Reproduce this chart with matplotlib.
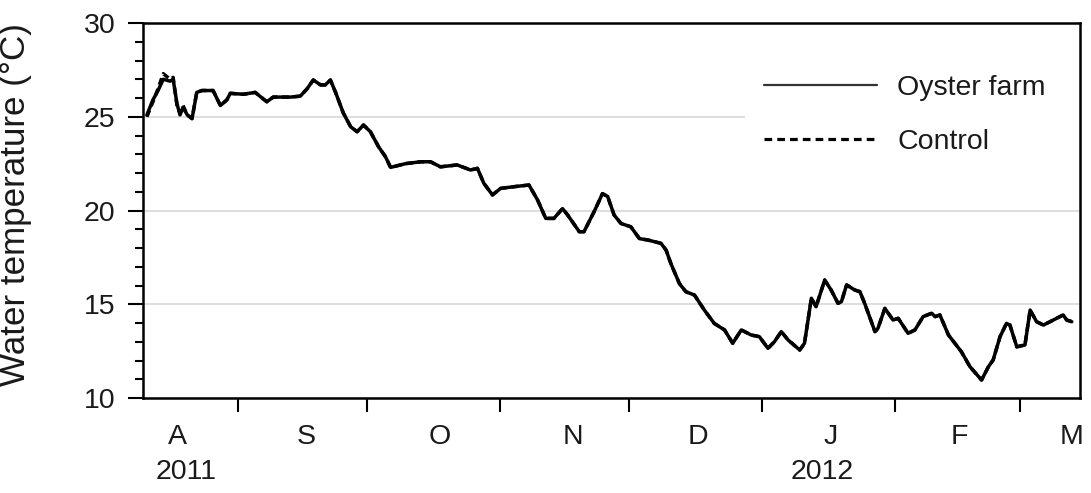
import pandas as pd
import matplotlib
matplotlib.use("Agg")
import matplotlib.pyplot as plt
import matplotlib.dates as mdates
from matplotlib.patches import Rectangle
from matplotlib.ticker import MultipleLocator, FixedLocator, FixedFormatter, NullFormatter

plt.rcParams["font.family"] = ["Liberation Sans", "DejaVu Sans"]

start = pd.Timestamp("2011-08-01")

# days after 1 Aug 2011
days = [9.9, 11.3, 12.5, 13.7, 15.3, 16.0, 16.9, 17.6, 18.3, 19.3,
        20.4, 21.5, 22.7, 25.3, 27.0, 28.5, 29.3, 32.3, 35.1, 37.8,
        39.3, 43.3, 45.6, 47.2, 48.6, 50.3, 51.4, 52.6, 53.8, 55.6,
        57.3, 58.8, 60.3, 61.9, 63.8, 65.4, 66.6, 70.1, 73.6, 75.9,
        78.2, 82.1, 85.2, 86.8, 88.3, 90.3, 92.2, 95.3, 98.8, 100.8,
        102.7, 104.6, 106.6, 107.8, 110.5, 111.6, 114.0, 115.9, 117.1, 118.6,
        120.2, 122.5, 124.5, 126.4, 129.5, 130.7, 131.8, 133.8, 135.3, 137.3,
        139.6, 141.9, 144.3, 146.2, 148.2, 150.5, 152.4, 154.4, 155.9, 157.5,
        159.1, 161.8, 162.9, 164.5, 165.6, 167.6, 169.1, 170.7, 171.5, 172.7,
        174.6, 175.8, 176.9, 179.3, 180.0, 181.6, 183.5, 184.7, 187.0, 188.6,
        190.5, 192.5, 193.3, 194.4, 196.4, 199.4, 201.4, 204.1, 205.7, 206.8,
        208.4, 209.9, 210.7, 212.3, 214.2, 215.4, 216.9, 218.5, 220.8, 223.1,
        223.9, 225.1]

oyster_temp = [25.1, 25.9, 26.4, 27.0, 26.9, 27.0, 25.7, 25.1, 25.5, 25.1,
               24.9, 26.3, 26.4, 26.4, 25.6, 25.9, 26.25, 26.2, 26.3, 25.8,
               26.05, 26.05, 26.1, 26.5, 26.96, 26.7, 26.7, 26.96, 26.3, 25.2,
               24.47, 24.2, 24.56, 24.2, 23.4, 22.87, 22.3, 22.5, 22.6, 22.6,
               22.33, 22.43, 22.16, 22.25, 21.45, 20.83, 21.18, 21.27, 21.36, 20.56,
               19.58, 19.58, 20.1, 19.76, 18.87, 18.87, 19.96, 20.9, 20.75, 19.76,
               19.31, 19.13, 18.5, 18.43, 18.25, 17.89, 17.18, 16.1, 15.67, 15.49,
               14.69, 13.98, 13.63, 12.92, 13.63, 13.36, 13.27, 12.65, 13.0, 13.54,
               13.09, 12.56, 12.92, 15.32, 14.87, 16.29, 15.76, 15.05, 15.14, 16.03,
               15.76, 15.67, 15.05, 13.54, 13.72, 14.78, 14.16, 14.25, 13.45, 13.63,
               14.34, 14.52, 14.34, 14.43, 13.36, 12.47, 11.67, 10.96, 11.67, 12.03,
               13.27, 13.98, 13.89, 12.73, 12.83, 14.69, 14.07, 13.89, 14.16, 14.43,
               14.16, 14.07]

control_temp = [25.0, 25.8, 26.5, 27.3, 27.0, 27.1, 25.6, 25.2, 25.6, 25.1,
                24.9, 26.3, 26.4, 26.4, 25.6, 25.9, 26.25, 26.2, 26.3, 25.8,
                26.05, 26.05, 26.1, 26.5, 26.96, 26.7, 26.7, 26.96, 26.3, 25.2,
                24.47, 24.2, 24.56, 24.2, 23.4, 22.87, 22.3, 22.5, 22.6, 22.6,
                22.33, 22.43, 22.16, 22.25, 21.45, 20.83, 21.18, 21.27, 21.36, 20.56,
                19.58, 19.58, 20.1, 19.76, 18.87, 18.87, 19.96, 20.9, 20.75, 19.76,
                19.31, 19.13, 18.5, 18.43, 18.25, 17.89, 17.18, 16.1, 15.67, 15.49,
                14.69, 13.98, 13.63, 12.92, 13.63, 13.36, 13.27, 12.65, 13.0, 13.54,
                13.09, 12.56, 12.92, 15.32, 14.87, 16.29, 15.76, 15.05, 15.14, 16.03,
                15.76, 15.67, 15.05, 13.54, 13.72, 14.78, 14.16, 14.25, 13.45, 13.63,
                14.34, 14.52, 14.34, 14.43, 13.36, 12.47, 11.67, 10.96, 11.67, 12.03,
                13.27, 13.98, 13.89, 12.73, 12.83, 14.69, 14.07, 13.89, 14.16, 14.43,
                14.16, 14.07]

month_edges = ["2011-09-01", "2011-10-01", "2011-11-01", "2011-12-01",
               "2012-01-01", "2012-02-01", "2012-03-01"]
month_labels = ["A", "S", "O", "N", "D", "J", "F", "M"]
month_label_dates = ["2011-08-18", "2011-09-17", "2011-10-18", "2011-11-18",
                     "2011-12-17", "2012-01-17", "2012-02-16", "2012-03-13"]
year_labels = ["2011", "2012"]
year_label_dates = ["2011-08-20", "2012-01-15"]

dates = start + pd.to_timedelta(days, unit="D")
ink = "#1a1a1a"

fig = plt.figure(figsize=(10.91, 4.93), dpi=100)
ax = fig.add_axes([0.1311, 0.1927, 0.8588, 0.7606])

ax.plot(dates, oyster_temp, color="black", lw=2.5, label="Oyster farm",
        solid_joinstyle="round", solid_capstyle="round", zorder=3)
ax.plot(dates, control_temp, color="black", lw=2.5, ls=(0, (2.0, 1.3)),
        label="Control", dash_joinstyle="round", zorder=4)

ax.set_xlim(pd.Timestamp("2011-08-10"), pd.Timestamp("2012-03-15"))
ax.set_ylim(10, 30)

ax.yaxis.set_major_locator(MultipleLocator(5))
ax.yaxis.set_minor_locator(MultipleLocator(1))
ax.tick_params(axis="y", which="major", length=11, width=1.5, pad=9,
               labelsize=20.5, labelcolor=ink)
ax.tick_params(axis="y", which="minor", length=6, width=1.5)

ax.xaxis.set_major_locator(FixedLocator(mdates.date2num(pd.to_datetime(month_edges))))
ax.xaxis.set_major_formatter(NullFormatter())
ax.xaxis.set_minor_locator(FixedLocator(mdates.date2num(pd.to_datetime(month_label_dates))))
ax.xaxis.set_minor_formatter(FixedFormatter(month_labels))
ax.tick_params(axis="x", which="major", length=10, width=1.5)
ax.tick_params(axis="x", which="minor", length=0, pad=19, labelsize=20.5,
               labelcolor=ink)

for side in ["left", "right", "top", "bottom"]:
    ax.spines[side].set_linewidth(1.8)

ax.grid(axis="y", which="major", color="#d8d8d8", lw=1.2)
ax.set_axisbelow(True)

for lab, d in zip(year_labels, year_label_dates):
    ax.text(pd.Timestamp(d), -0.197, lab, transform=ax.get_xaxis_transform(),
            ha="center", va="center", fontsize=20.5, color=ink)

ax.set_ylabel("Water temperature (°C)", fontsize=25.2, color=ink)
ax.yaxis.set_label_coords(-0.1185, 0.516)

# white patch behind the legend hides the gridline there
ax.add_patch(Rectangle((0.6425, 0.62), 0.3575, 0.38, transform=ax.transAxes,
                       facecolor="white", edgecolor="none", zorder=1))

leg = ax.legend(loc="upper left", bbox_to_anchor=(0.6425, 0.912), borderaxespad=0,
                frameon=False, fontsize=20.5, handlelength=4.0, handletextpad=0.7,
                labelspacing=1.0, borderpad=0.65, labelcolor=ink)
solid_handle, dashed_handle = leg.get_lines()
solid_handle.set_linewidth(1.6)
solid_handle.set_color("#333333")
dashed_handle.set_linewidth(2.3)
dashed_handle.set_linestyle((0, (2.4, 1.6)))

fig.savefig("out.png", dpi=100)
